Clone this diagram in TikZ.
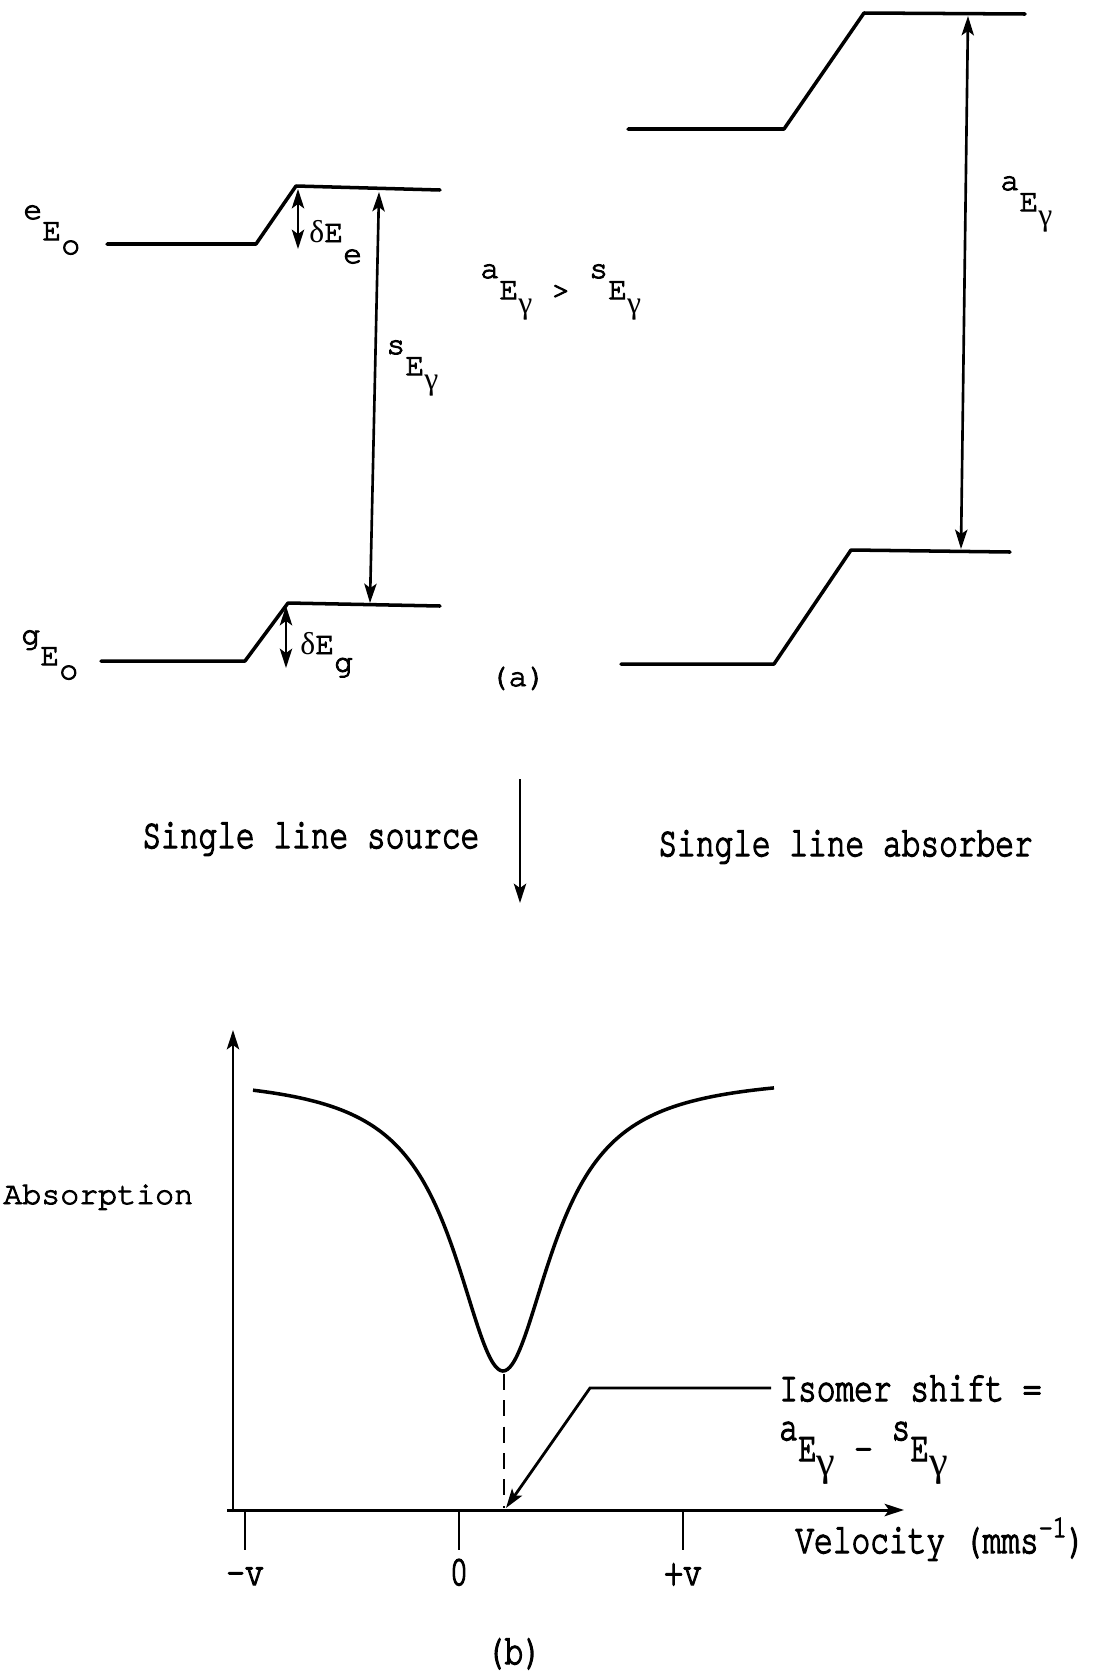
\documentclass[tikz,border=0pt]{standalone}
\usepackage{fontspec}
\setmainfont{texgyrecursor-regular.otf}[FakeBold=3]
\newfontfamily\narrowtt{texgyrecursor-regular.otf}[FakeStretch=0.74,FakeBold=3]
\newfontfamily\grk{Liberation Serif}
\usetikzlibrary{arrows.meta}
\newcommand\lvE[2]{#1\raisebox{-12pt}{E}\raisebox{-20pt}{#2}}
\newcommand\gam{{\grk γ}}
\newcommand\dlt{{\grk δ}}
\begin{document}
\begin{tikzpicture}[x=0.02cm,y=-0.02cm,
  >={Stealth[length=11pt,width=7pt,inset=2.5pt]},
  lvl/.style={line width=2pt,line join=round,line cap=round},
  dbl/.style={line width=1.5pt,<->},
  axis/.style={line width=1.7pt},
  tt/.style={font=\fontsize{18}{21}\selectfont,inner sep=0pt},
  nt/.style={font=\narrowtt\fontsize{24}{28}\selectfont,inner sep=0pt}]
\useasboundingbox (0,0) rectangle (1110,1674);

% ---------- (a) source levels ----------
\coordinate (eL) at (107,244); \coordinate (eK) at (256,244);
\coordinate (eT) at (296,186); \coordinate (eR) at (440,190);
\draw[lvl] (eL) -- (eK) -- (eT) -- (eR);
\coordinate (gL) at (101,661); \coordinate (gK) at (245,661);
\coordinate (gT) at (288,603); \coordinate (gR) at (440,606);
\draw[lvl] (gL) -- (gK) -- (gT) -- (gR);

\coordinate (de1) at (298,189); \coordinate (de2) at (298,249);
\draw[dbl] (de1) -- (de2);
\coordinate (dg1) at (286,606); \coordinate (dg2) at (286,668);
\draw[dbl] (dg1) -- (dg2);
\coordinate (sg1) at (379,192); \coordinate (sg2) at (370,603);
\draw[dbl] (sg1) -- (sg2);

\node[tt,anchor=base west] (eEo) at (23,219) {\lvE{e}{o}};
\node[tt,anchor=base west] (gEo) at (21,644) {\lvE{g}{o}};
\node[tt,anchor=base west] (dEe) at (309,242) {\dlt E\raisebox{-12pt}{e}};
\node[tt,anchor=base west] (dEg) at (300,654) {\dlt E\raisebox{-10pt}{g}};
\node[tt,anchor=base west] (sEg) at (386,354) {\lvE{s}{\gam}};
\node[tt,anchor=base west] (cmp) at (480,278) {\lvE{a}{\gam}\raisebox{-12pt}{~>~}\lvE{s}{\gam}};
\node[tt,anchor=base] (la) at (518,686) {(a)};

% ---------- (a) absorber levels ----------
\coordinate (aL) at (628,129); \coordinate (aK) at (784,129);
\coordinate (aT) at (864,13); \coordinate (aR) at (1025,14);
\draw[lvl] (aL) -- (aK) -- (aT) -- (aR);
\coordinate (bL) at (621,664); \coordinate (bK) at (774,664);
\coordinate (bT) at (851,550); \coordinate (bR) at (1010,552);
\draw[lvl] (bL) -- (bK) -- (bT) -- (bR);
\coordinate (ag1) at (968,16); \coordinate (ag2) at (961,549);
\draw[dbl] (ag1) -- (ag2);
\node[tt,anchor=base west] (aEg) at (1000,190) {\lvE{a}{\gam}};

% ---------- middle ----------
\coordinate (m1) at (520,779); \coordinate (m2) at (520,903);
\draw[line width=1.5pt,->] (m1) -- (m2);
\node[nt,anchor=base west] (src) at (142,848) {Single line source};
\node[nt,anchor=base west] (abs) at (658,856) {Single line absorber};

% ---------- (b) spectrum ----------
\coordinate (yB) at (233,1512);
\coordinate (yT) at (233,1030);
\coordinate (xS) at (227,1510);
\coordinate (xT) at (904,1510);
\draw[axis,->] (yB) -- (yT);
\draw[axis,->] (xS) -- (xT);
\foreach \n/\x/\t in {mv/245/-v, zr/459/0, pv/683/+v}{
  \coordinate (t\n) at (\x,1512);
  \draw[line width=1.6pt] (t\n) -- ++(0,38);
  \node[nt,anchor=base] (l\n) at (\x,1585) {\t};
}
\draw[line width=2pt] plot[domain=253:774,samples=220,smooth]
  (\x,{1074+297/(1+((\x-503)/60)^2)});
\coordinate (mn) at (504,1374);
\coordinate (mx) at (504,1508);
\draw[line width=1.7pt,dash pattern=on 9pt off 6pt] (mn) -- (mx);
\coordinate (i1) at (771,1388);
\coordinate (i2) at (590,1388);
\coordinate (i3) at (506,1508);
\draw[line width=1.6pt,->] (i1) -- (i2) -- (i3);

\node[tt,anchor=base west] (ab) at (3,1204) {Absorption};
\node[nt,anchor=base west] (iso) at (779,1401) {Isomer shift =};
\node[nt,anchor=base west] (iso2) at (779,1440) {\lvE{a}{\gam}\raisebox{-12pt}{~-~}\lvE{s}{\gam}};
\node[nt,anchor=base west] (vel) at (795,1553) {Velocity (mms\raisebox{9pt}{\fontsize{18}{20}\selectfont -1})};
\node[nt,anchor=base] (lb) at (514,1664) {(b)};
\end{tikzpicture}
\end{document}
